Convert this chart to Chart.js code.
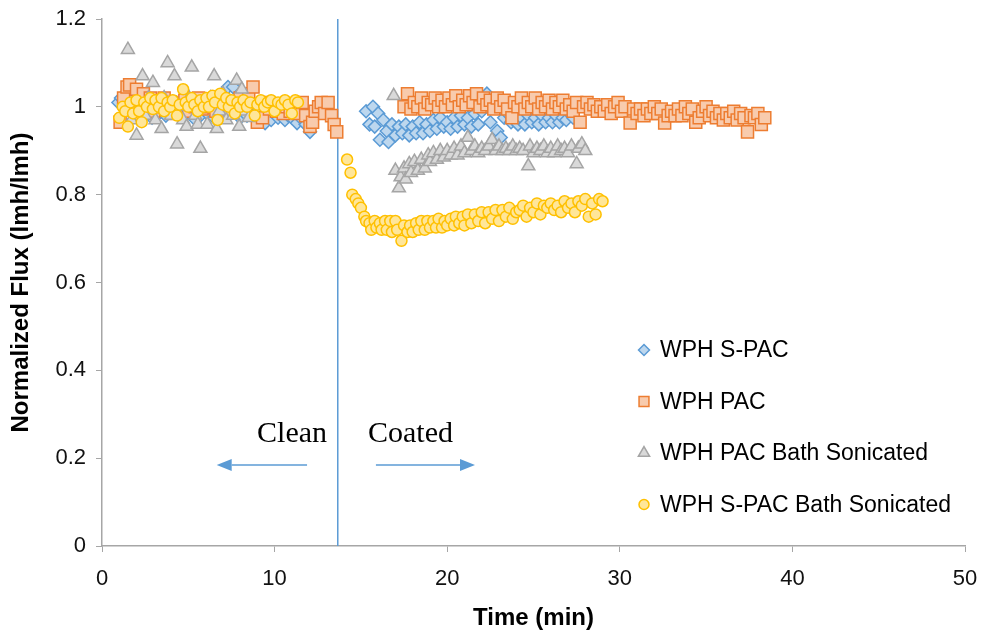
<!DOCTYPE html>
<html>
<head>
<meta charset="utf-8">
<script src="https://cdn.jsdelivr.net/npm/chart.js@4.4.0/dist/chart.umd.min.js"></script>
<style>
  html, body { margin: 0; padding: 0; background: #fff; }
  #wrap { width: 982px; height: 635px; }
</style>
</head>
<body>
<div id="wrap"><canvas id="fluxChart" width="982" height="635"></canvas></div>
<script>
// [time (min), normalized flux]
const wphSPac = [
  // clean membrane
  [0.95,1.01],[1.1,1.02],[1.3,1.0],[1.5,1.02],[1.7,0.99],[1.9,1.01],[2.1,0.98],[2.3,1.0],[2.5,0.99],[2.7,1.005],
  [2.9,0.975],[3.1,1.0],[3.3,0.985],[3.5,1.01],[3.7,0.98],[3.9,1.0],[4.1,0.99],[4.3,1.01],[4.5,0.98],[4.7,1.0],
  [4.9,0.985],[5.1,1.01],[5.3,0.975],[5.5,0.995],[5.7,0.98],[5.9,1.0],[6.1,0.985],[6.3,1.005],[6.5,0.975],[6.7,0.995],
  [6.9,0.98],[7.1,1.0],[7.3,1.045],[7.6,1.045],[7.8,0.99],[8.0,0.975],[8.2,1.0],[8.4,0.98],[8.6,0.995],[8.8,0.975],
  [9.0,0.99],[9.2,0.97],[9.45,0.963],[9.6,0.985],[9.8,0.97],[10.0,0.99],[10.2,0.975],[10.4,0.985],[10.6,0.97],[10.8,0.98],
  [11.0,0.975],[11.3,0.963],[11.5,0.975],[11.8,0.96],[12.05,0.943],
  // coated membrane
  [15.3,0.99],[15.5,0.96],[15.7,1.0],[15.8,0.955],[16.0,0.985],[16.1,0.925],[16.3,0.97],[16.5,0.945],[16.6,0.92],[16.8,0.96],
  [17.0,0.935],[17.2,0.955],[17.4,0.94],[17.6,0.96],[17.8,0.935],[18.0,0.955],[18.2,0.94],[18.4,0.965],[18.6,0.94],[18.8,0.96],
  [19.0,0.945],[19.2,0.97],[19.4,0.95],[19.6,0.975],[19.8,0.955],[20.0,0.965],[20.2,0.95],[20.4,0.975],[20.6,0.955],[20.8,0.98],
  [21.0,0.96],[21.2,0.975],[21.4,0.955],[21.6,0.985],[21.8,0.96],[22.0,0.99],[22.3,1.03],[22.5,0.965],[22.9,0.945],[23.1,0.93],
  [23.3,0.975],[23.5,0.985],[23.7,0.965],[23.9,0.98],[24.1,0.96],[24.3,0.975],[24.5,0.96],[24.7,0.98],[24.9,0.965],[25.1,0.975],
  [25.3,0.96],[25.5,0.98],[25.7,0.965],[25.9,0.975],[26.1,0.965],[26.3,0.98],[26.5,0.965],[26.7,0.975],[26.9,0.97],[27.1,0.985],
  [27.3,0.975]
];

const wphPac = [
  [1.05,0.965],[1.25,1.02],[1.45,1.045],[1.6,1.05],[1.8,1.0],[2.0,1.04],[2.2,0.98],[2.4,1.03],[2.6,1.0],[2.8,1.02],
  [3.0,0.99],[3.2,1.01],[3.4,1.0],[3.6,1.02],[3.8,0.995],[4.0,1.01],[4.2,0.985],[4.4,1.005],[4.6,1.0],[4.8,1.015],
  [5.0,0.99],[5.2,1.01],[5.4,1.0],[5.6,1.02],[5.8,0.995],[6.0,1.01],[6.2,1.0],[6.4,1.015],[6.6,0.99],[6.8,1.02],
  [7.0,1.0],[7.2,1.01],[7.4,0.99],[7.6,1.01],[7.8,1.0],[8.0,1.02],[8.2,1.0],[8.5,1.03],[8.75,1.045],[9.0,0.965],
  [9.3,0.975],[9.5,1.01],[9.7,0.995],[9.9,1.005],[10.1,0.99],[10.3,1.005],[10.5,0.985],[10.7,1.0],[10.9,0.99],[11.1,1.005],
  [11.3,0.985],[11.6,1.01],[11.8,0.98],[12.05,0.955],[12.2,0.965],[12.35,0.99],[12.55,1.0],[12.7,1.01],[12.9,0.985],[13.1,1.01],
  [13.3,0.98],[13.45,0.96],[13.6,0.943],
  [17.5,1.0],[17.7,1.03],[17.9,0.995],[18.1,1.01],[18.3,1.0],[18.5,1.02],[18.7,0.995],[18.9,1.01],[19.1,1.005],[19.3,1.02],
  [19.5,1.0],[19.7,1.015],[19.9,1.0],[20.1,1.02],[20.3,1.005],[20.5,1.025],[20.7,1.0],[20.9,1.015],[21.1,1.005],[21.3,1.025],
  [21.5,1.01],[21.7,1.03],[21.9,1.0],[22.1,1.02],[22.3,1.005],[22.5,1.015],[22.7,0.995],[22.9,1.02],[23.1,1.0],[23.3,1.015],
  [23.5,0.995],[23.75,0.975],[23.9,1.01],[24.1,1.0],[24.3,1.02],[24.5,0.995],[24.7,1.01],[24.9,1.0],[25.1,1.02],[25.3,0.995],
  [25.5,1.01],[25.7,1.0],[25.9,1.015],[26.1,0.995],[26.3,1.01],[26.5,1.0],[26.7,1.015],[26.9,0.995],[27.1,1.005],[27.3,0.99],
  [27.5,1.01],[27.7,0.965],[27.9,1.0],[28.1,1.01],[28.3,0.995],[28.5,1.005],[28.7,0.99],[28.9,1.0],[29.1,0.99],[29.3,1.005],
  [29.5,0.985],[29.7,1.0],[29.9,1.01],[30.1,0.99],[30.3,1.0],[30.6,0.963],[30.8,0.995],[31.0,0.985],[31.2,0.995],[31.4,0.98],
  [31.6,0.995],[31.8,0.985],[32.0,1.0],[32.2,0.985],[32.4,0.995],[32.6,0.963],[32.8,0.98],[33.0,0.99],[33.2,0.98],[33.4,0.995],
  [33.6,0.98],[33.8,1.0],[34.0,0.985],[34.2,0.995],[34.4,0.965],[34.6,0.975],[34.8,0.99],[35.0,1.0],[35.2,0.98],[35.4,0.99],
  [35.6,0.975],[35.8,0.985],[36.0,0.97],[36.2,0.985],[36.4,0.975],[36.6,0.99],[36.8,0.97],[37.0,0.985],[37.2,0.975],[37.4,0.943],
  [37.6,0.98],[37.8,0.975],[38.0,0.985],[38.2,0.96],[38.4,0.975]
];

const wphPacBath = [
  [1.5,1.13],[1.7,0.97],[2.0,0.935],[2.2,1.0],[2.35,1.07],[2.5,0.98],[2.7,1.02],[2.95,1.055],[3.1,0.97],[3.3,1.0],
  [3.45,0.95],[3.6,1.02],[3.8,1.1],[4.0,0.98],[4.2,1.07],[4.35,0.915],[4.5,1.0],[4.7,0.97],[4.9,0.955],[5.05,1.02],
  [5.2,1.09],[5.4,0.98],[5.55,0.96],[5.7,0.905],[5.9,1.0],[6.1,0.96],[6.3,1.02],[6.5,1.07],[6.65,0.95],[6.8,0.99],
  [7.0,1.03],[7.2,0.97],[7.4,1.0],[7.6,0.98],[7.8,1.06],[7.95,0.955],[8.1,1.04],[8.3,0.99],[8.5,0.975],
  [16.9,1.025],[17.0,0.855],[17.2,0.815],[17.3,0.84],[17.5,0.86],[17.6,0.835],[17.8,0.87],[17.9,0.85],[18.1,0.875],[18.3,0.855],
  [18.5,0.88],[18.7,0.86],[18.9,0.89],[19.0,0.875],[19.2,0.895],[19.4,0.88],[19.6,0.9],[19.8,0.885],[20.0,0.9],[20.2,0.89],
  [20.4,0.905],[20.6,0.89],[20.8,0.91],[21.0,0.895],[21.2,0.93],[21.4,0.9],[21.6,0.91],[21.8,0.895],[22.0,0.905],[22.2,0.9],
  [22.4,0.91],[22.6,0.925],[22.8,0.9],[23.0,0.91],[23.2,0.9],[23.4,0.905],[23.6,0.9],[23.8,0.91],[24.0,0.9],[24.2,0.905],
  [24.4,0.9],[24.7,0.865],[24.8,0.91],[25.0,0.895],[25.2,0.905],[25.4,0.9],[25.6,0.91],[25.8,0.895],[26.0,0.905],[26.2,0.895],
  [26.4,0.91],[26.6,0.9],[26.8,0.905],[27.0,0.895],[27.2,0.91],[27.5,0.87],[27.6,0.905],[27.8,0.915],[28.0,0.9]
];

const wphSPacBath = [
  [1.0,0.975],[1.2,1.0],[1.35,0.99],[1.5,0.955],[1.65,1.01],[1.8,0.985],[2.0,1.015],[2.15,0.99],[2.3,0.965],[2.45,1.01],
  [2.6,1.0],[2.8,1.02],[2.95,0.995],[3.1,1.015],[3.3,1.0],[3.45,1.02],[3.6,0.99],[3.8,1.01],[3.95,1.0],[4.1,1.015],
  [4.35,0.98],[4.5,1.005],[4.7,1.04],[4.85,1.01],[5.0,1.0],[5.2,1.02],[5.35,1.005],[5.55,0.99],[5.7,1.015],[5.9,1.0],
  [6.05,1.02],[6.2,1.0],[6.4,1.025],[6.55,1.01],[6.7,0.97],[6.85,1.03],[7.0,1.005],[7.2,1.02],[7.35,1.0],[7.5,1.015],
  [7.7,0.985],[7.85,1.01],[8.0,1.0],[8.2,1.015],[8.4,1.0],[8.6,1.01],[8.85,0.98],[9.0,1.005],[9.2,1.015],[9.4,1.0],
  [9.6,1.01],[9.8,1.015],[10.0,0.99],[10.2,1.01],[10.4,1.005],[10.6,1.015],[10.8,1.005],[11.0,0.985],[11.2,1.015],[11.35,1.01],
  [14.2,0.88],[14.4,0.85],[14.5,0.8],[14.7,0.79],[14.85,0.78],[15.0,0.77],[15.2,0.75],[15.3,0.74],[15.5,0.735],[15.6,0.72],
  [15.8,0.74],[15.9,0.725],[16.1,0.735],[16.2,0.72],[16.4,0.74],[16.5,0.72],[16.7,0.74],[16.8,0.715],[17.0,0.74],[17.1,0.72],
  [17.35,0.695],[17.5,0.73],[17.7,0.715],[17.85,0.73],[18.0,0.715],[18.2,0.735],[18.35,0.72],[18.5,0.74],[18.7,0.72],[18.85,0.74],
  [19.0,0.725],[19.2,0.74],[19.35,0.725],[19.5,0.745],[19.7,0.725],[19.85,0.74],[20.0,0.73],[20.2,0.745],[20.4,0.73],[20.5,0.75],
  [20.7,0.735],[20.9,0.75],[21.0,0.73],[21.2,0.755],[21.4,0.735],[21.6,0.755],[21.8,0.74],[22.0,0.76],[22.2,0.735],[22.4,0.76],
  [22.6,0.745],[22.8,0.765],[23.0,0.74],[23.2,0.765],[23.4,0.75],[23.6,0.77],[23.8,0.745],[24.0,0.76],[24.2,0.765],[24.4,0.775],
  [24.6,0.75],[24.8,0.77],[25.0,0.76],[25.2,0.78],[25.4,0.755],[25.6,0.775],[25.8,0.77],[26.0,0.78],[26.2,0.765],[26.4,0.775],
  [26.6,0.76],[26.8,0.785],[27.0,0.77],[27.2,0.78],[27.4,0.76],[27.6,0.785],[27.8,0.775],[28.0,0.79],[28.2,0.75],[28.4,0.78],
  [28.6,0.755],[28.8,0.79],[29.0,0.785]
];

const seriesNames = ["WPH S-PAC", "WPH PAC", "WPH PAC Bath Sonicated", "WPH S-PAC Bath Sonicated"];
const xTicks = [0, 10, 20, 30, 40, 50];
const yTicks = [0, 0.2, 0.4, 0.6, 0.8, 1, 1.2];

const toPts = arr => arr.map(p => ({ x: p[0], y: p[1] }));

// dividing line and the two labels, in data units
const notes = {
  split: 13.66,
  textY: 0.2376,
  cleanX: 13.04,
  coatedX: 15.41,
  arrowY: 0.1845,
  left: [11.88, 6.645],
  right: [15.87, 21.61]
};

const noteColor = "#5b9bd5";

const notesPlugin = {
  id: "notes",
  beforeDatasetsDraw(chart) {
    const { ctx, chartArea } = chart;
    const xs = chart.scales.x;
    const x = xs.getPixelForValue(notes.split);
    ctx.save();
    ctx.strokeStyle = noteColor;
    ctx.lineWidth = 1.5;
    ctx.beginPath();
    ctx.moveTo(x, chartArea.top);
    ctx.lineTo(x, chartArea.bottom);
    ctx.stroke();
    ctx.restore();
  },
  afterDatasetsDraw(chart) {
    const { ctx } = chart;
    const xs = chart.scales.x, ys = chart.scales.y;
    ctx.save();
    ctx.fillStyle = "#000";
    ctx.font = "30px 'Liberation Serif', 'Times New Roman', serif";
    ctx.textBaseline = "alphabetic";
    const ty = ys.getPixelForValue(notes.textY);
    ctx.textAlign = "right";
    ctx.fillText("Clean", xs.getPixelForValue(notes.cleanX), ty);
    ctx.textAlign = "left";
    ctx.fillText("Coated", xs.getPixelForValue(notes.coatedX), ty);

    const ay = ys.getPixelForValue(notes.arrowY);
    [notes.left, notes.right].forEach(([from, to]) => {
      const x0 = xs.getPixelForValue(from), x1 = xs.getPixelForValue(to);
      const dir = Math.sign(x1 - x0);
      const head = 15;
      ctx.strokeStyle = noteColor;
      ctx.fillStyle = noteColor;
      ctx.lineWidth = 1.5;
      ctx.beginPath();
      ctx.moveTo(x0, ay);
      ctx.lineTo(x1 - dir * head, ay);
      ctx.stroke();
      ctx.beginPath();
      ctx.moveTo(x1, ay);
      ctx.lineTo(x1 - dir * head, ay - 6);
      ctx.lineTo(x1 - dir * head, ay + 6);
      ctx.closePath();
      ctx.fill();
    });
    ctx.restore();
  }
};

// legend sits inside the plot, lower right, like the Excel original
const sideLegend = {
  id: "sideLegend",
  afterDraw(chart) {
    const { ctx } = chart;
    const markX = 644, textX = 660, top = 350, gap = 51.5;
    chart.data.datasets.forEach((ds, i) => {
      const y = top + i * gap;
      ctx.save();
      ctx.fillStyle = ds.backgroundColor;
      ctx.strokeStyle = ds.borderColor;
      ctx.lineWidth = 1.5;
      Chart.helpers.drawPoint(ctx, {
        pointStyle: ds.pointStyle,
        radius: ds.legendRadius,
        rotation: 0,
        borderWidth: 1.5
      }, markX, y);
      ctx.fillStyle = "#000";
      ctx.font = "23px 'Liberation Sans', Arial, sans-serif";
      ctx.textAlign = "left";
      ctx.textBaseline = "middle";
      ctx.fillText(ds.label, textX, y + 1);
      ctx.restore();
    });
  }
};

const axisGrey = "#a6a6a6";
const tickFont = { family: "'Liberation Sans', Arial, sans-serif", size: 22 };
const titleFont = { family: "'Liberation Sans', Arial, sans-serif", size: 24, weight: "bold" };

new Chart(document.getElementById("fluxChart"), {
  type: "scatter",
  data: {
    datasets: [
      {
        label: seriesNames[0], data: toPts(wphSPac), order: 4,
        pointStyle: "rectRot", pointRadius: 6.5, legendRadius: 5.5,
        backgroundColor: "#bdd7ee", borderColor: "#5b9bd5", borderWidth: 1.5
      },
      {
        label: seriesNames[1], data: toPts(wphPac), order: 3,
        pointStyle: "rect", pointRadius: 8.5, legendRadius: 7,
        backgroundColor: "#f8cbad", borderColor: "#ed7d31", borderWidth: 1.5
      },
      {
        label: seriesNames[2], data: toPts(wphPacBath), order: 2,
        pointStyle: "triangle", pointRadius: 7.5, legendRadius: 6.5,
        backgroundColor: "#d9d9d9", borderColor: "#a5a5a5", borderWidth: 1.5
      },
      {
        label: seriesNames[3], data: toPts(wphSPacBath), order: 1,
        pointStyle: "circle", pointRadius: 5.5, legendRadius: 5,
        backgroundColor: "#ffe699", borderColor: "#ffc000", borderWidth: 1.5
      }
    ]
  },
  options: {
    responsive: false,
    animation: false,
    layout: { padding: { top: 19, right: 17, left: 0, bottom: 0 } },
    plugins: {
      legend: { display: false },
      tooltip: { enabled: false }
    },
    scales: {
      x: {
        type: "linear",
        min: xTicks[0],
        max: xTicks[xTicks.length - 1],
        afterBuildTicks: s => { s.ticks = xTicks.map(v => ({ value: v })); },
        ticks: { font: tickFont, color: "#111", padding: 14, maxRotation: 0, callback: v => String(v) },
        grid: { drawOnChartArea: false, drawTicks: true, tickLength: 6, color: axisGrey },
        border: { color: axisGrey, width: 1.5 },
        title: { display: true, text: "Time (min)", font: titleFont, color: "#000", padding: { top: 4, bottom: 2 } },
        afterFit: s => { s.height = 89; s.paddingLeft = 0; s.paddingRight = 0; }
      },
      y: {
        type: "linear",
        min: yTicks[0],
        max: yTicks[yTicks.length - 1],
        afterBuildTicks: s => { s.ticks = yTicks.map(v => ({ value: v })); },
        ticks: { font: tickFont, color: "#111", padding: 10, callback: v => String(v) },
        grid: { drawOnChartArea: false, drawTicks: true, tickLength: 6, color: axisGrey },
        border: { color: axisGrey, width: 1.5 },
        title: { display: true, text: "Normalized Flux (lmh/lmh)", font: titleFont, color: "#000", padding: { top: 7, bottom: 4 } },
        afterFit: s => { s.width = 102; s.paddingTop = 0; s.paddingBottom = 0; }
      }
    }
  },
  plugins: [notesPlugin, sideLegend]
});
</script>
</body>
</html>
